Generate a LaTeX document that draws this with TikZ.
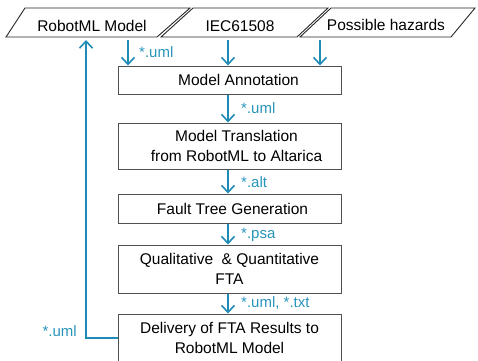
\documentclass[tikz,border=0pt]{standalone}
\usepackage{fontspec}
\setmainfont{Liberation Sans}
\usetikzlibrary{arrows.meta}
\definecolor{flow}{RGB}{30,140,180}
\definecolor{lbl}{RGB}{40,148,186}
\definecolor{edge}{RGB}{80,80,80}
\tikzset{
  stepbox/.style={draw=edge, line width=1pt, fill=white, minimum width=223pt, align=center, inner sep=0pt,
    font=\fontsize{15.5}{20}\selectfont},
  para/.style={draw=black!85, line width=0.9pt},
  ptext/.style={inner sep=0pt, font=\fontsize{15.5}{20}\selectfont},
  flowarrow/.style={draw=flow, line width=1.6pt, -{Straight Barb[length=7pt,width=13pt,line width=1.6pt]}},
  flowlbl/.style={text=lbl, inner sep=0pt, anchor=west, font=\fontsize{15}{18}\selectfont},
}
\begin{document}
\begin{tikzpicture}[x=1pt,y=-1pt]
\useasboundingbox (0,0) rectangle (478,360);
% input parallelograms
\draw[para] (6,37) -- (25,8) -- (190,8) -- (157,37) -- cycle;
\draw[para] (161,37) -- (193,8) -- (328,8) -- (297,37) -- cycle;
\draw[para] (300,37) -- (331,8) -- (475,8) -- (451,37) -- cycle;
\node[ptext] (rml) at (92,26) {RobotML Model};
\node[ptext] (iec) at (240,26) {IEC61508};
\node[ptext] (haz) at (386,25) {Possible hazards};
\coordinate (s1) at (128,40);
\coordinate (s2) at (228,40);
\coordinate (s3) at (320,40);
\coordinate (up) at (86,40);
% process boxes
\node[stepbox, minimum height=28pt] (ann) at (229.5,80) {\hspace*{18pt}Model Annotation};
\node[stepbox, minimum height=46pt] (trans) at (229.5,146) {\hspace*{14pt}Model Translation\\\hspace*{14pt}from RobotML to Altarica};
\node[stepbox, minimum height=29pt] (ftg) at (229.5,208.5) {\hspace*{6pt}Fault Tree Generation};
\node[stepbox, minimum height=48pt] (qual) at (229.5,269) {Qualitative \ \& Quantitative\\FTA};
\node[stepbox, minimum height=48pt] (deliv) at (229.5,338) {Delivery of FTA Results to\\RobotML Model};
% inputs to annotation
\draw[flowarrow] (s1) -- (s1 |- ann.north);
\draw[flowarrow] (s2) -- (s2 |- ann.north);
\draw[flowarrow] (s3) -- (s3 |- ann.north);
\node[flowlbl] at (139,52) {*.uml};
% chain
\draw[flowarrow] (ann.south -| s2) -- (trans.north -| s2);
\node[flowlbl] at (241,108) {*.uml};
\draw[flowarrow] (trans.south -| s2) -- (ftg.north -| s2);
\node[flowlbl] at (241,182) {*.alt};
\draw[flowarrow] (ftg.south -| s2) -- (qual.north -| s2);
\node[flowlbl] at (241,235) {*.psa};
\draw[flowarrow] (qual.south -| s2) -- (deliv.north -| s2);
\node[flowlbl] at (241,303) {*.uml, *.txt};
% feedback
\draw[flowarrow] (deliv.west) -- (deliv.west -| up) -- (up);
\node[flowlbl, anchor=east] at (77,331) {*.uml};
\end{tikzpicture}
\end{document}
